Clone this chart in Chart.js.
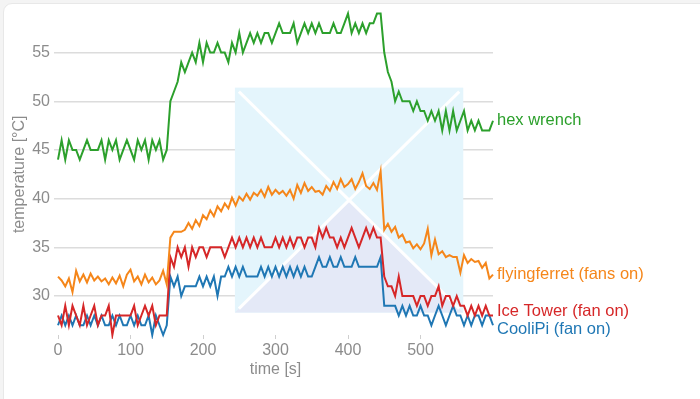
<!DOCTYPE html>
<html>
<head>
<meta charset="utf-8">
<script src="https://cdn.jsdelivr.net/npm/chart.js@4"></script>
<style>
  html, body { margin: 0; padding: 0; background: #f4f4f4; }
  body { width: 700px; height: 399px; position: relative; overflow: hidden; }
  .card {
    position: absolute; left: 3px; top: 3px; width: 710px; height: 410px;
    background: #fff; border: 1px solid #e8e8e8; border-radius: 9px;
  }
  #chart { position: absolute; left: 0; top: 0; }
</style>
</head>
<body>
<div class="card"></div>
<canvas id="chart" width="700" height="399"></canvas>
<script>
// time axis, seconds
const times = [
  0, 5, 10, 15, 20, 25, 30, 35, 40, 45, 50, 55, 60, 65, 70, 75, 80, 85, 90, 95,
  100, 105, 110, 115, 120, 125, 130, 135, 140, 145, 150, 155, 160, 165, 170, 175, 180, 185, 190, 195,
  200, 205, 210, 215, 220, 225, 230, 235, 240, 245, 250, 255, 260, 265, 270, 275, 280, 285, 290, 295,
  300, 305, 310, 315, 320, 325, 330, 335, 340, 345, 350, 355, 360, 365, 370, 375, 380, 385, 390, 395,
  400, 405, 410, 415, 420, 425, 430, 435, 440, 445, 450, 455, 460, 465, 470, 475, 480, 485, 490, 495,
  500, 505, 510, 515, 520, 525, 530, 535, 540, 545, 550, 555, 560, 565, 570, 575, 580, 585, 590, 595,
  600,
];

const hexWrench = [
  44, 46, 44, 46, 45, 45, 44, 45, 46, 45, 45, 45, 46, 44, 46, 45, 46, 44, 45, 46,
  45, 44, 46, 45, 46, 44, 46, 45, 46, 44, 45, 50, 51, 52, 54, 53, 54, 55, 54, 56,
  54, 56, 55, 55, 56, 55, 55, 54, 56, 55, 57, 55, 56, 57, 56, 57, 56, 57, 57, 56,
  57, 58, 57, 57, 57, 58, 56, 57, 58, 57, 58, 57, 58, 57, 57, 57, 58, 57, 57, 58,
  59, 57, 58, 57, 58, 57, 58, 58, 59, 59, 55, 53, 52, 50, 51, 50, 50, 50, 49, 50,
  49, 49, 48, 49, 48, 49, 47, 49, 47, 49, 47, 48, 49, 47, 48, 47, 48, 47, 47, 47,
  48,
];

const flyingFerret = [
  32.0, 31.6, 31.0, 31.8, 30.4, 32.6, 31.5, 32.2, 31.4, 32.3, 31.6, 32.0, 31.5, 31.8, 31.2, 31.9, 31.3, 32.1, 31.0, 32.2,
  32.7, 31.5, 32.0, 31.2, 32.2, 31.4, 31.9, 31.2, 31.6, 32.6, 31.2, 36.0, 36.6, 36.6, 36.6, 36.8, 37.5, 36.9, 37.8, 37.2,
  38.3, 37.9, 38.8, 38.2, 39.2, 38.7, 39.5, 39.0, 40.1, 39.3, 40.2, 39.8, 40.5, 39.9, 40.6, 40.3, 40.9, 40.2, 41.2, 40.4,
  40.9, 40.5, 40.8, 40.3, 40.9, 40.0, 41.4, 40.6, 41.6, 40.8, 41.2, 40.7, 40.8, 40.4, 41.3, 40.8, 41.7, 41.0, 42.0, 41.2,
  41.5, 42.0, 41.0, 41.7, 42.6, 41.3, 41.0, 41.6, 40.9, 42.8, 36.8, 37.4, 36.6, 37.1, 36.0, 36.3, 35.5, 35.6, 34.9, 35.3,
  34.8, 35.4, 36.9, 34.2, 35.8, 34.3, 34.6, 34.0, 34.2, 34.0, 34.0, 32.4, 34.2, 33.4, 33.8, 33.5, 33.6, 32.9, 33.4, 31.8,
  32.2,
];

const iceTower = [
  28, 27, 29, 27, 29, 28, 27, 29, 27, 28, 29, 27, 28, 28, 29, 26, 28, 28, 28, 28,
  28, 29, 27, 28, 29, 28, 29, 27, 28, 28, 28, 34, 33, 35, 34, 35, 33, 35, 34, 35,
  35, 34, 35, 35, 35, 35, 34, 35, 36, 35, 36, 35, 36, 35, 36, 35, 36, 35, 35, 35,
  36, 35, 36, 35, 36, 35, 36, 36, 35, 36, 36, 35, 37, 36, 37, 36, 36, 35, 36, 35,
  36, 37, 36, 35, 36, 37, 36, 37, 36, 36, 32, 31, 31, 30, 32, 30, 30, 30, 30, 29,
  30, 30, 29, 30, 30, 31, 29, 30, 30, 29, 30, 29, 29, 28, 29, 28, 29, 28, 29, 28,
  28,
];

const cooliPi = [
  27, 28, 27, 28, 27, 28, 27, 27, 28, 27, 28, 27, 28, 27, 27, 28, 27, 28, 27, 27,
  28, 27, 28, 27, 27, 28, 26, 28, 27, 26, 27, 32, 31, 32, 30, 31, 31, 31, 31, 32,
  31, 32, 31, 32, 30, 32, 32, 33, 32, 33, 32, 33, 32, 32, 32, 32, 33, 32, 33, 32,
  33, 32, 33, 32, 33, 32, 33, 32, 33, 32, 32, 33, 34, 33, 33, 34, 33, 33, 34, 33,
  33, 33, 34, 33, 33, 33, 33, 33, 33, 34, 29, 29, 29, 29, 28, 29, 28, 29, 28, 28,
  29, 28, 28, 27, 28, 29, 28, 27, 28, 29, 28, 28, 27, 28, 27, 28, 28, 27, 28, 28,
  27,
];

const seriesNames = ["hex wrench", "flyingferret (fans on)", "Ice Tower (fan on)", "CooliPi (fan on)"];
const seriesColors = ["#2ca02c", "#f5861a", "#d62728", "#1f77b4"];
const yTicks = [30, 35, 40, 45, 50, 55];
const xTicks = [0, 100, 200, 300, 400, 500];

const allSeries = [hexWrench, flyingFerret, iceTower, cooliPi];
const FONT = "'Liberation Sans', Arial, Helvetica, sans-serif";

// faint watermark box behind the lines
const watermark = {
  id: "watermark",
  beforeDatasetsDraw(chart) {
    const { ctx, scales } = chart;
    const x1 = scales.x.getPixelForValue(244);
    const x2 = scales.x.getPixelForValue(559);
    const y1 = scales.y.getPixelForValue(51.4);
    const y2 = scales.y.getPixelForValue(28.3);
    const cx = (x1 + x2) / 2;
    const cy = (y1 + y2) / 2;
    ctx.save();
    ctx.fillStyle = "#e4f5fc";
    ctx.fillRect(x1, y1, x2 - x1, y2 - y1);
    ctx.fillStyle = "#e4e9f7";
    ctx.beginPath();
    ctx.moveTo(x1, y2);
    ctx.lineTo(cx, cy);
    ctx.lineTo(x2, y2);
    ctx.closePath();
    ctx.fill();
    ctx.strokeStyle = "#ffffff";
    ctx.lineWidth = 3;
    ctx.beginPath();
    ctx.moveTo(x1 + 4, y1 + 4);
    ctx.lineTo(x2 - 4, y2 - 4);
    ctx.moveTo(x2 - 4, y1 + 4);
    ctx.lineTo(x1 + 4, y2 - 4);
    ctx.stroke();
    ctx.restore();
  },
};

// series names at the end of each line, pushed apart when they collide
const endLabels = {
  id: "endLabels",
  afterDatasetsDraw(chart) {
    const { ctx, chartArea, scales } = chart;
    const gap = 18;
    const items = chart.data.datasets.map((ds) => ({
      text: ds.label,
      color: ds.borderColor,
      y: scales.y.getPixelForValue(ds.data[ds.data.length - 1].y),
    }));
    items.sort((a, b) => a.y - b.y);
    for (let pass = 0; pass < 20; pass++) {
      for (let i = 1; i < items.length; i++) {
        const d = items[i].y - items[i - 1].y;
        if (d < gap) {
          const push = (gap - d) / 2;
          items[i - 1].y -= push;
          items[i].y += push;
        }
      }
    }
    ctx.save();
    ctx.font = "16.5px " + FONT;
    ctx.textBaseline = "middle";
    ctx.textAlign = "left";
    items.forEach((it) => {
      ctx.fillStyle = it.color;
      ctx.fillText(it.text, chartArea.right + 4, it.y);
    });
    ctx.restore();
  },
};

const datasets = allSeries.map((values, i) => ({
  label: seriesNames[i],
  data: values.map((v, j) => ({ x: times[j], y: v })),
  borderColor: seriesColors[i],
  backgroundColor: seriesColors[i],
  borderWidth: 2,
  pointRadius: 0,
  tension: 0,
  fill: false,
  clip: 4,
}));

new Chart(document.getElementById("chart"), {
  type: "line",
  data: { datasets },
  options: {
    responsive: false,
    animation: false,
    layout: { padding: { left: 8, top: 12, right: 207, bottom: 20 } },
    scales: {
      x: {
        type: "linear",
        min: 0,
        max: 600,
        afterBuildTicks: (scale) => {
          scale.ticks = xTicks.map((v) => ({ value: v }));
        },
        afterFit: (scale) => {
          scale.height = 44;
        },
        border: { display: false },
        grid: { drawOnChartArea: false, drawTicks: true, tickLength: 4, color: "#cfcfcf", lineWidth: 1 },
        ticks: { color: "#8c8c8c", font: { family: FONT, size: 16 }, padding: 2, maxRotation: 0 },
        title: {
          display: true,
          text: "time [s]",
          color: "#8c8c8c",
          font: { family: FONT, size: 16 },
          padding: { top: 0, bottom: 0 },
        },
      },
      y: {
        min: 26,
        max: 59,
        afterBuildTicks: (scale) => {
          scale.ticks = yTicks.map((v) => ({ value: v }));
        },
        afterFit: (scale) => {
          scale.width = 50;
        },
        border: { display: false },
        grid: { color: "#dcdcdc", lineWidth: 1.5, drawTicks: true, tickLength: 4 },
        ticks: { color: "#8c8c8c", font: { family: FONT, size: 16 }, padding: 4 },
        title: {
          display: true,
          text: "temperature [°C]",
          color: "#8c8c8c",
          font: { family: FONT, size: 16 },
          padding: { top: 2, bottom: 0 },
        },
      },
    },
    plugins: {
      legend: { display: false },
      tooltip: { enabled: false },
    },
  },
  plugins: [watermark, endLabels],
});
</script>
</body>
</html>
